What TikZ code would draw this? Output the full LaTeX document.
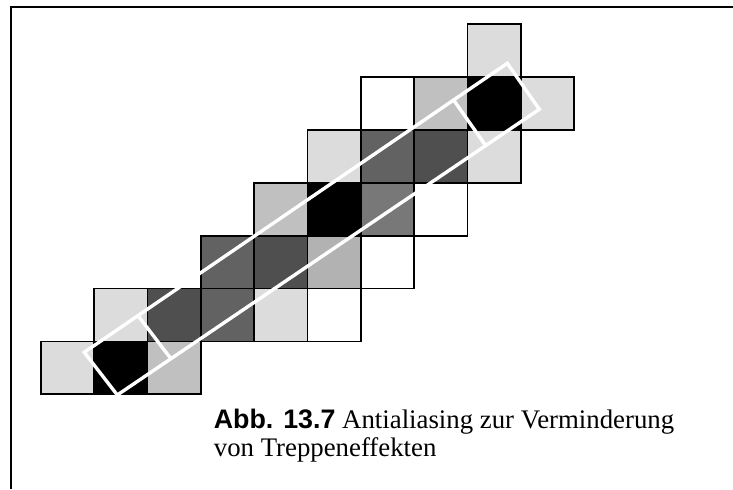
\documentclass[tikz,border=0pt]{standalone}
\usepackage{fontspec}
\setmainfont{Liberation Serif}
\newfontfamily\capsans{Liberation Sans}
\usepackage{tikz}
\usetikzlibrary{calc}
\definecolor{PixLight}{HTML}{DCDCDC}
\definecolor{PixSilver}{HTML}{C0C0C0}
\definecolor{PixGrey}{HTML}{B2B2B2}
\definecolor{PixMid}{HTML}{787878}
\definecolor{PixDark}{HTML}{626262}
\definecolor{PixDeep}{HTML}{4F4F4F}

\begin{document}
\begin{tikzpicture}[x=26.65pt,y=26.45pt,
    pixel/.style={draw=black,line width=0.9pt},
    band/.style={draw=white,line width=1.7pt,line join=miter},
    frameline/.style={draw=black,line width=1pt},
    caption/.style={anchor=base west,inner sep=0pt,font=\fontsize{13.4}{14.5}\selectfont},
]
\useasboundingbox (-0.769,-1.790) rectangle (12.983,7.454);
% frame
\draw[frameline] (-0.563,-1.790) -- (-0.563,7.321) -- (12.983,7.321);
% pixels
\foreach \col/\row/\shade in {0/0/PixLight,1/0/black,2/0/PixSilver,
    1/1/PixLight,2/1/PixDeep,3/1/PixDark,4/1/PixLight,5/1/white,
    3/2/PixDark,4/2/PixDeep,5/2/PixGrey,6/2/white,
    4/3/PixSilver,5/3/black,6/3/PixMid,7/3/white,
    5/4/PixLight,6/4/PixDark,7/4/PixDeep,8/4/PixLight,
    6/5/white,7/5/PixSilver,8/5/black,9/5/PixLight,
    8/6/PixLight}
  \draw[pixel,fill=\shade] (\col,\row) rectangle ++(1,1);
% ideal line
\coordinate (bandA) at (0.812,0.794);
\coordinate (bandB) at (1.432,-0.013);
\coordinate (bandC) at (9.349,5.388);
\coordinate (bandD) at (8.749,6.257);
\draw[band] (bandA) -- (bandB) -- (bandC) -- (bandD) -- cycle;
\draw[band] ($(bandA)!0.127!(bandD)$) -- ($(bandB)!0.127!(bandC)$);
\draw[band] ($(bandD)!0.127!(bandA)$) -- ($(bandC)!0.127!(bandB)$);
% caption
\node[caption] (capline1) at (3.236,-0.650) {{\capsans\bfseries Abb. 13.7} Antialiasing zur Verminderung};
\node[caption] (capline2) at (3.236,-1.180) {von Treppeneffekten};
\end{tikzpicture}
\end{document}
